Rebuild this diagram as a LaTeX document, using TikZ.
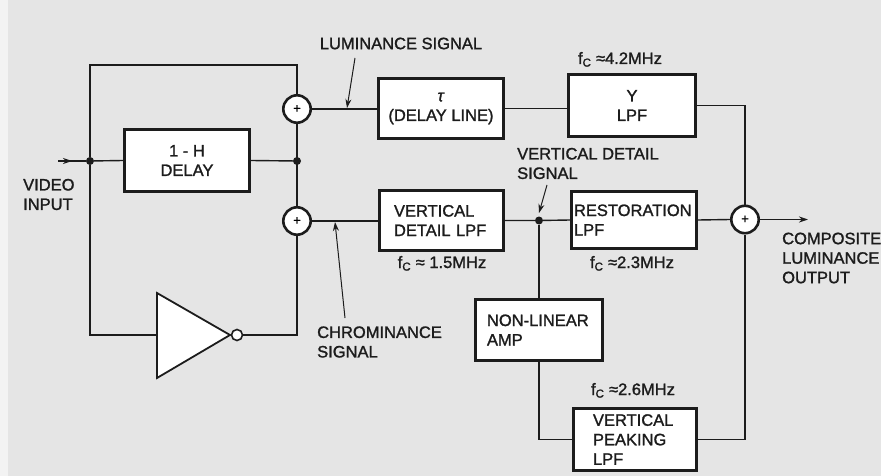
\documentclass[tikz,border=0pt]{standalone}
\usepackage{fontspec}
\setmainfont{Liberation Sans}
\newfontfamily\diagfont{Liberation Sans}[FakeBold=1.4]
\usepackage{tikz}
\usetikzlibrary{arrows.meta, positioning, calc}
\definecolor{mybg}{RGB}{229,229,229}
\definecolor{mydark}{RGB}{28,28,28}
\newcommand{\lbl}{\diagfont\fontsize{16.5}{19.5}\selectfont}
\tikzset{
  block/.style={rectangle, draw=mydark, fill=white, line width=2.8pt,
    inner sep=0pt, font=\lbl, text=mydark, align=center},
  lblock/.style={block, align=left},
  sumjunc/.style={circle, draw=mydark, fill=white, line width=2.6pt,
    minimum size=27.4pt, inner sep=0pt, font=\diagfont\fontsize{13}{13}\selectfont},
  jdot/.style={circle, fill=mydark, minimum size=8pt, inner sep=0pt},
  bubble/.style={circle, draw=mydark, fill=white, line width=1.6pt,
    minimum size=11pt, inner sep=0pt},
  txt/.style={font=\lbl, text=mydark, inner sep=0pt},
  arrow/.style={-{Stealth[length=9pt,width=6pt]}, line width=1.4pt, color=mydark},
  thinarrow/.style={arrow, line width=1pt},
  line/.style={line width=1.4pt, color=mydark}
}

\begin{document}
\begin{tikzpicture}[x=1pt, y=-1pt]
  % Background
  \fill[mybg] (0,0) rectangle (881,476);
  \fill[white!55!mybg] (0,0) rectangle (8,476);
  \useasboundingbox (0,0) rectangle (881,476);

  % Summing junctions and taps
  \node[sumjunc] (addtop) at (297,109) {+};
  \node[sumjunc] (addbot) at (297,221) {+};
  \node[sumjunc] (addout) at (745,219.5) {+};
  \node[jdot] (tapin) at (90,161) {};
  \node[jdot] (tapdel) at (297,161) {};
  \node[jdot] (tapvd) at (539,220.5) {};

  % Blocks
  \node[block, minimum width=125.4pt, minimum height=62.4pt] (delay) at (187,160.5) {1 - H\\DELAY};
  \node[block, minimum width=125.4pt, minimum height=60.4pt] (tau) at (441,108.5) {\textit{τ}\\(DELAY LINE)};
  \node[block, minimum width=127.4pt, minimum height=62.4pt] (ylpf) at (632,105.5) {Y\\LPF};
  \node[lblock, text width=95pt, inner xsep=14.7pt, minimum height=60.4pt] (vdlpf) at (441.5,220.5) {VERTICAL\\DETAIL LPF};
  \node[lblock, text width=120pt, inner xsep=2.7pt, minimum height=57.4pt] (restlpf) at (634,220) {RESTORATION\\LPF};
  \node[lblock, text width=104pt, inner xsep=11.7pt, minimum height=61.4pt] (nlamp) at (539,330) {NON-LINEAR\\AMP};
  \node[lblock, text width=84pt, inner xsep=19.7pt, minimum height=62.4pt] (vplpf) at (635,439.5) {VERTICAL\\PEAKING\\LPF};

  % Inverter
  \coordinate (invin) at (157,335);
  \coordinate (invtip) at (230,335);
  \draw[mydark, fill=white, line width=1.8pt, line join=miter] (157,293) -- (invtip) -- (157,378) -- cycle;
  \node[bubble] (bub) at (237,335) {};

  % Connections
  \coordinate (vin) at (58,161);
  \coordinate (topleft) at (90,65);
  \coordinate (vout) at (808,219.5);
  \draw[arrow] (vin) -- ++(14,0);
  \draw[line] (vin) -- (tapin);
  \draw[line] (tapin) -- (topleft) -| (addtop.north);
  \draw[line] (tapin) -- (delay.west);
  \draw[line] (delay.east) -- (tapdel);
  \draw[line] (addtop.south) -- (addbot.north);
  \draw[line] (tapin) |- (invin);
  \draw[line] (bub.east) -| (addbot.south);
  \draw[line] (addtop.east) -- (addtop.east -| tau.west);
  \draw[line] (tau.east) -- (tau.east -| ylpf.west);
  \draw[line] (ylpf.east) -| (addout.north);
  \draw[line] (addbot.east) -- (addbot.east -| vdlpf.west);
  \draw[line] (vdlpf.east) -- (tapvd) -- (restlpf.west);
  \draw[line] (restlpf.east) -- (addout.west);
  \draw[line] (tapvd) -- (nlamp.north);
  \draw[line] (nlamp.south) |- (vplpf.west);
  \draw[line] (vplpf.east) -| (addout.south);
  \draw[arrow] (addout.east) -- (vout);

  % Signal labels
  \node[txt] (lumsig) at (401,43.5) {LUMINANCE SIGNAL};
  \node[txt, align=left, anchor=west] (chrsig) at (317,342) {CHROMINANCE\\SIGNAL};
  \node[txt, align=left, anchor=west] (vdsig) at (517,163.5) {VERTICAL DETAIL\\SIGNAL};
  \node[txt, align=left, anchor=west] (vinlbl) at (23,194.5) {VIDEO\\INPUT};
  \node[txt, align=left, anchor=west] (outlbl) at (782,258) {COMPOSITE\\LUMINANCE\\OUTPUT};
  \coordinate (lumtail) at (355,58);
  \coordinate (lumtip) at (347,108);
  \coordinate (chrtail) at (345,318);
  \coordinate (chrtip) at (335,222);
  \coordinate (vdtail) at (547,185);
  \coordinate (vdtip) at (539,213);
  \draw[thinarrow] (lumtail) -- (lumtip);
  \draw[thinarrow] (chrtail) -- (chrtip);
  \draw[thinarrow] (vdtail) -- (vdtip);

  % Cut-off frequencies
  \node[txt, anchor=base] (fcy) at (620,64) {f\textsubscript{C} ≈4.2MHz};
  \node[txt, anchor=base] (fcvd) at (442,268) {f\textsubscript{C} ≈ 1.5MHz};
  \node[txt, anchor=base] (fcrest) at (632,268) {f\textsubscript{C} ≈2.3MHz};
  \node[txt, anchor=base] (fcpeak) at (633,395) {f\textsubscript{C} ≈2.6MHz};
\end{tikzpicture}
\end{document}
